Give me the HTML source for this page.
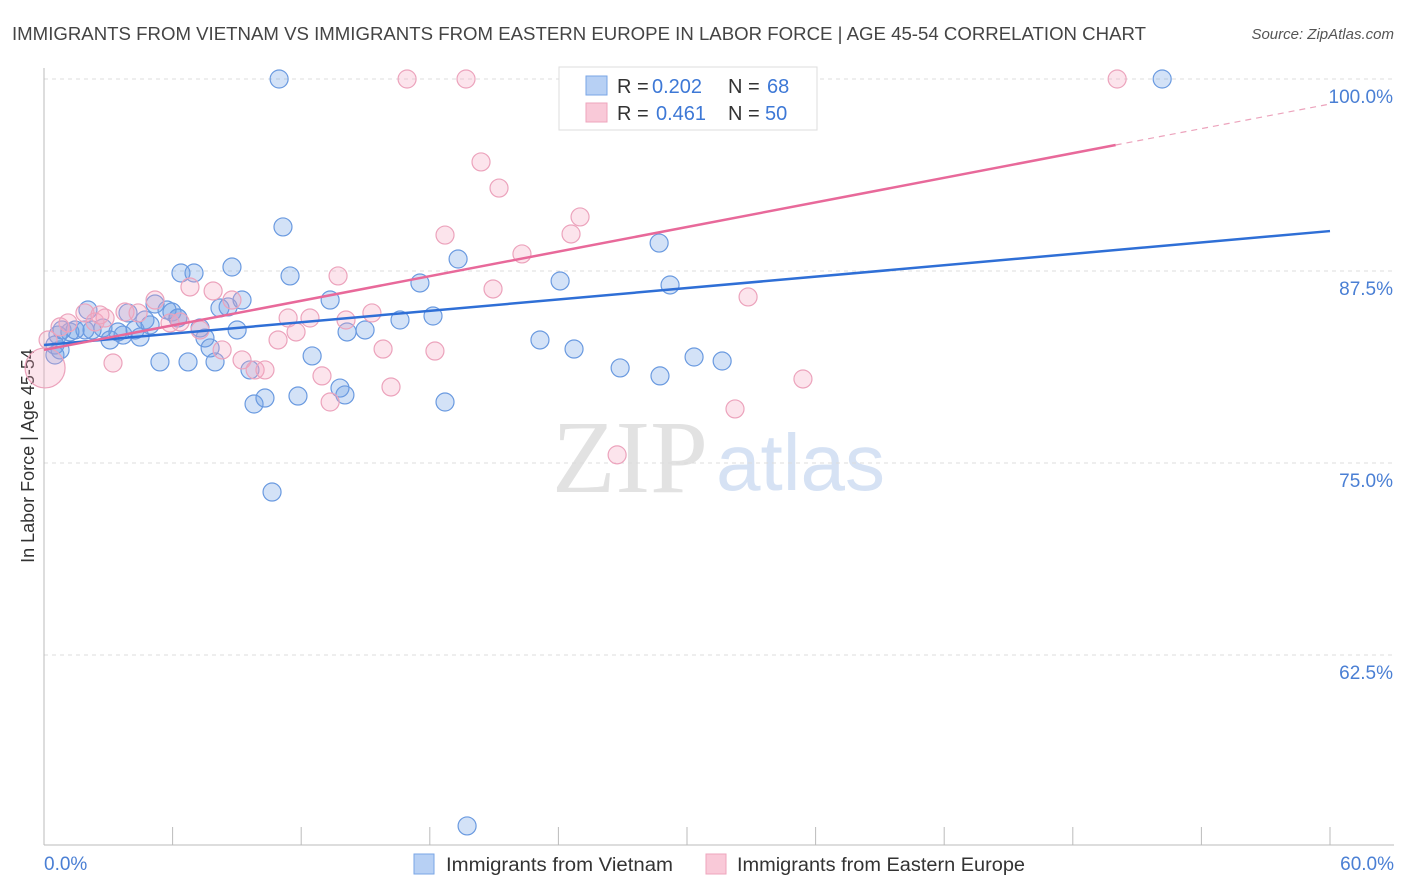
<!DOCTYPE html>
<html><head><meta charset="utf-8">
<style>
body{margin:0;background:#fff;font-family:"Liberation Sans",sans-serif;}
svg{display:block}
</style></head>
<body>
<svg id="chart" width="1406" height="892" viewBox="0 0 1406 892">
<text x="12" y="40" font-size="18.5" fill="#444" textLength="1134" lengthAdjust="spacingAndGlyphs">IMMIGRANTS FROM VIETNAM VS IMMIGRANTS FROM EASTERN EUROPE IN LABOR FORCE | AGE 45-54 CORRELATION CHART</text>
<text x="1394" y="39" font-size="15" fill="#555" font-style="italic" text-anchor="end">Source: ZipAtlas.com</text>
<g>
<text x="552" y="492" font-family="Liberation Serif,serif" font-size="104" fill="#e2e2e2">ZIP</text>
<text x="716" y="490" font-size="80" fill="#d6e2f4">atlas</text>
</g>
<g id="grid"></g>
<g id="axes"></g>
<g id="pts-blue"></g>
<g id="pts-pink"></g>
<g id="trends"></g>
<g>
<rect x="559" y="67" width="258" height="63" fill="#fff" stroke="#ddd"/>
<rect x="586" y="76" width="21" height="19" fill="#b7d0f4" stroke="#7aa6e6"/>
<rect x="586" y="103" width="21" height="19" fill="#f9c9d8" stroke="#eea5bd"/>
<text x="617" y="93" font-size="20" fill="#333">R = <tspan fill="#3d78d6" x="652">0.202</tspan><tspan x="728">N = </tspan><tspan fill="#3d78d6" x="767">68</tspan></text>
<text x="617" y="120" font-size="20" fill="#333">R = <tspan fill="#3d78d6" x="656">0.461</tspan><tspan x="728">N = </tspan><tspan fill="#3d78d6" x="765">50</tspan></text>
</g>
<g>
<rect x="414" y="854" width="20" height="20" fill="#b7d0f4" stroke="#7aa6e6"/>
<text x="446" y="871" font-size="19" fill="#333" textLength="227" lengthAdjust="spacingAndGlyphs">Immigrants from Vietnam</text>
<rect x="706" y="854" width="20" height="20" fill="#f9c9d8" stroke="#eea5bd"/>
<text x="737" y="871" font-size="19" fill="#333" textLength="288" lengthAdjust="spacingAndGlyphs">Immigrants from Eastern Europe</text>
</g>
</svg>
<script>
const yTicks=[100,87.5,75,62.5];
const yTickLabels=["100.0%","87.5%","75.0%","62.5%"];
const xTickVals=[0,6,12,18,24,30,36,42,48,54,60];
const xEndLabels=["0.0%","60.0%"];
const blueX=[0.51,0.65,0.84,1.21,1.45,2.05,2.24,2.75,3.08,3.45,3.69,3.92,4.25,4.48,4.71,4.95,5.18,5.41,5.74,5.97,6.25,6.39,6.72,7.0,7.28,7.51,7.75,7.98,8.21,8.59,8.77,9.01,9.24,9.61,9.80,10.31,10.64,10.97,11.15,11.48,11.85,12.51,13.35,13.81,14.04,14.14,14.98,16.61,17.54,18.15,18.71,19.32,19.74,23.14,24.08,24.73,25.01,26.88,28.70,28.74,29.21,30.33,31.64,52.17,0.51,0.75,6.25,1.91];
const blueY=[82.68,83.33,83.66,83.53,83.66,84.96,83.66,83.79,83.01,83.53,83.33,84.77,83.66,83.20,84.31,83.99,85.35,81.58,84.96,84.83,84.44,87.37,81.58,87.37,83.79,83.14,82.49,81.58,85.09,85.16,87.76,83.66,85.61,81.06,78.84,79.23,73.11,100,90.37,87.18,79.36,81.97,85.61,79.88,79.43,83.53,83.66,84.31,86.72,84.57,78.97,88.28,51.37,83.01,86.85,82.42,100,81.19,89.32,80.67,86.59,81.90,81.64,100,82.03,82.36,84.44,83.66];
const pinkX=[0.05,0.75,1.12,1.91,2.38,2.85,3.22,3.78,4.39,5.18,5.88,6.35,6.81,7.28,7.89,8.31,8.77,9.24,9.85,10.31,10.92,11.39,11.76,12.41,12.97,13.35,13.72,14.09,15.30,15.82,16.19,16.94,18.24,18.71,19.69,20.39,21.23,20.95,22.30,24.59,25.01,25.48,28.60,32.85,32.24,26.74,35.41,50.07,0.19,2.61];
const pinkY=[81.19,83.86,84.12,84.77,84.18,84.44,81.51,84.83,84.77,85.61,84.12,84.18,86.46,83.66,86.20,82.36,85.61,81.71,81.06,81.06,83.01,84.44,83.53,84.44,80.67,78.97,87.18,84.31,84.77,82.42,79.95,100,82.29,89.84,100,94.60,92.90,86.33,88.61,89.91,91.02,100,100,85.81,78.52,75.53,80.47,100,83.01,84.64];
const blueTrend=[82.68,90.10];
const pinkTrend=[82.36,98.37];
const pinkSolidEnd=50;

const NS="http://www.w3.org/2000/svg";
const X0=44,X1=1330,YTOP=79,PX_PER=192/12.5;
const sx=v=>X0+(v/60)*(X1-X0);
const sy=v=>YTOP+(100-v)*PX_PER;
function mk(tag,attrs,parent){const e=document.createElementNS(NS,tag);for(const k in attrs)e.setAttribute(k,attrs[k]);parent.appendChild(e);return e;}
const grid=document.getElementById('grid'),axes=document.getElementById('axes');
yTicks.forEach((t,i)=>{
  const l=mk('line',{x1:X0,x2:1394,y1:sy(t),y2:sy(t),stroke:'#dcdcdc','stroke-dasharray':'4,4'},grid);
  
  
  const tx=mk('text',{x:1393,y:sy(t)+24,'font-size':19,fill:'#4a7fd4','text-anchor':'end'},axes);
  tx.textContent=yTickLabels[i];
  
  
});
const la=mk('line',{x1:X0,x2:X0,y1:68,y2:845,stroke:'#bbb'},axes);


const ba=mk('line',{x1:X0,x2:1394,y1:845,y2:845,stroke:'#bbb'},axes);


xTickVals.forEach(v=>{
  const t=mk('line',{x1:sx(v),x2:sx(v),y1:827,y2:845,stroke:'#bbb'},axes);
  
  
});
const xl0=mk('text',{x:44,y:870,'font-size':19,fill:'#4a7fd4'},axes);xl0.textContent=xEndLabels[0];


const xl1=mk('text',{x:1394,y:870,'font-size':19,fill:'#4a7fd4','text-anchor':'end'},axes);xl1.textContent=xEndLabels[1];


const yt=mk('text',{x:0,y:0,'font-size':18,fill:'#333','text-anchor':'middle',transform:'translate(34,456) rotate(-90)'},axes);yt.textContent='In Labor Force | Age 45-54';



const gb=document.getElementById('pts-blue'),gp=document.getElementById('pts-pink');
pinkX.forEach((x,i)=>{
  const c=mk('circle',{cx:sx(x),cy:sy(pinkY[i]),r:i===0?20:9,fill:'rgba(244,165,192,0.3)',stroke:'#eca3bc','stroke-width':1.2},gp);
  
  
});
blueX.forEach((x,i)=>{
  const c=mk('circle',{cx:sx(x),cy:sy(blueY[i]),r:9,fill:'rgba(110,160,230,0.3)',stroke:'#6a9ae0','stroke-width':1.2},gb);
  
  
});
const tr=document.getElementById('trends');
const bt=mk('line',{x1:sx(0),y1:sy(blueTrend[0]),x2:sx(60),y2:sy(blueTrend[1]),stroke:'#2f6fd6','stroke-width':2.5},tr);


const pAt=v=>pinkTrend[0]+(pinkTrend[1]-pinkTrend[0])*v/60;
const pt=mk('line',{x1:sx(0),y1:sy(pinkTrend[0]),x2:sx(pinkSolidEnd),y2:sy(pAt(pinkSolidEnd)),stroke:'#e8699a','stroke-width':2.5},tr);


const pd=mk('line',{x1:sx(pinkSolidEnd),y1:sy(pAt(pinkSolidEnd)),x2:sx(60),y2:sy(pinkTrend[1]),stroke:'#eca3bc','stroke-width':1.2,'stroke-dasharray':'6,5'},tr);


</script>
</body></html>
